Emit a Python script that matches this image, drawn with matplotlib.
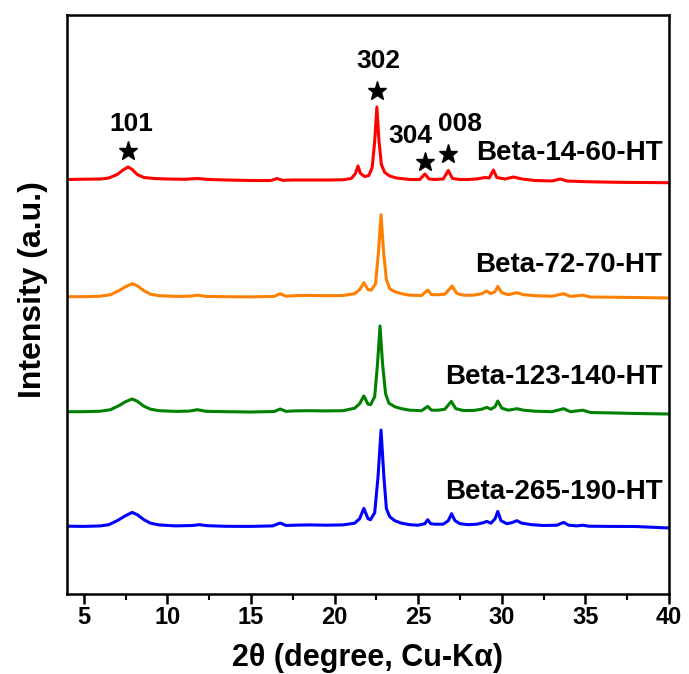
import matplotlib
matplotlib.use("Agg")
import matplotlib.pyplot as plt
from matplotlib.ticker import MultipleLocator

plt.rcParams['font.family'] = ['Liberation Sans', 'DejaVu Sans']
plt.rcParams['font.weight'] = 'bold'

# --- XRD patterns: (2theta, intensity above the trace's own baseline, a.u.) ---
red_pts = [(4.0, 0), (5.0, 0.3), (6.0, 0.5), (6.5, 1.5), (7.0, 5), (7.4, 10), (7.65, 12.5), (7.9, 10),
           (8.2, 5), (8.6, 2), (9.2, 1), (10.0, 0.5), (11.0, 0.2), (11.8, 1.0), (12.5, 0), (13.5, -0.5),
           (15.0, -1), (16.2, -1), (16.55, 1), (16.9, -0.8), (17.5, -0.5), (18.5, -0.5), (19.5, -0.5),
           (20.5, -0.3), (21.0, 1), (21.25, 6), (21.4, 13.5), (21.55, 6), (21.8, 3), (22.05, 4), (22.25, 12),
           (22.4, 38), (22.53, 72.5), (22.66, 38), (22.8, 15), (23.0, 7), (23.3, 3.5), (23.7, 1.5),
           (24.5, 0), (25.1, 0), (25.4, 5.5), (25.65, 0.5), (26.0, 0), (26.5, 0.5), (26.8, 9), (27.05, 1),
           (27.5, 0), (28.0, 0), (28.5, 0.5), (29.0, 2), (29.25, 1.5), (29.5, 9.5), (29.7, 2), (30.2, 0.5),
           (30.7, 2.5), (31.2, 0.5), (32.0, -1), (33.0, -1.5), (33.5, 0.5), (33.9, -1.5), (35.0, -2.2),
           (37.0, -2.8), (40.0, -3.2)]

orange_pts = [(4.0, 0), (5.0, 0), (6.0, 0.5), (6.6, 2), (7.1, 6), (7.5, 10), (7.9, 13), (8.2, 11),
              (8.6, 6), (9.0, 2.5), (9.5, 1), (10.5, 0.3), (11.3, 0.5), (11.8, 1.5), (12.3, 0.3), (13.5, 0),
              (15.0, -0.2), (16.4, 0.3), (16.75, 3), (17.1, 0.5), (17.6, 1), (18.5, 1.3), (19.5, 1),
              (20.5, 1.2), (21.2, 3), (21.5, 7), (21.75, 14), (22.0, 7), (22.2, 6.5), (22.45, 13),
              (22.63, 45), (22.78, 82), (22.93, 45), (23.1, 17), (23.3, 8), (23.6, 5), (24.0, 3), (24.5, 1.5),
              (25.2, 1.2), (25.57, 6.7), (25.8, 2), (26.2, 2), (26.6, 2.5), (27.03, 10.7), (27.3, 3.5),
              (27.7, 1.5), (28.3, 1.5), (28.8, 3), (29.1, 5.7), (29.35, 3), (29.6, 5), (29.76, 10.3),
              (30.0, 4), (30.4, 2), (30.9, 4), (31.3, 2), (32.0, 1), (33.0, 0.5), (33.7, 3), (34.1, 0.3),
              (34.84, 1.5), (35.3, -0.3), (36.5, -0.5), (38.0, -0.8), (40.0, -1.3)]

green_pts = [(4.0, 0), (5.0, 0), (6.0, 0.5), (6.6, 2), (7.1, 6), (7.5, 10), (7.9, 12.7), (8.2, 10.5),
             (8.6, 5.5), (9.0, 2.5), (9.5, 1), (10.5, 0.3), (11.3, 0.6), (11.8, 2), (12.3, 0.4), (13.5, 0),
             (15.0, -0.3), (16.4, 0.2), (16.75, 2.7), (17.1, 0.3), (17.6, 0.8), (18.5, 1), (19.5, 0.8),
             (20.5, 1), (21.2, 3.5), (21.5, 8), (21.75, 15.7), (22.0, 7.5), (22.15, 7), (22.4, 15),
             (22.57, 48), (22.72, 85.7), (22.87, 48), (23.05, 18), (23.25, 8.5), (23.6, 5), (24.0, 3),
             (24.5, 1.5), (25.2, 1), (25.57, 5.3), (25.8, 1.5), (26.2, 1.5), (26.6, 2.5), (26.98, 10.3),
             (27.25, 3), (27.7, 1.2), (28.3, 1.2), (28.8, 2.5), (29.1, 4.3), (29.35, 2.5), (29.6, 5),
             (29.76, 10.7), (30.0, 3.5), (30.4, 1.5), (30.9, 3), (31.3, 1.5), (32.0, 0.5), (33.0, 0),
             (33.7, 3), (34.1, 0), (34.84, 1.5), (35.3, -0.8), (36.5, -1.2), (38.0, -1.8), (40.0, -2.3)]

blue_pts = [(4.0, 0.5), (5.0, 0.3), (6.0, 0.8), (6.5, 2), (7.0, 6), (7.5, 11), (7.9, 14.3), (8.2, 12),
            (8.6, 7), (9.0, 3.5), (9.5, 1.8), (10.5, 0.8), (11.5, 1.2), (11.9, 2), (12.4, 1.0), (13.5, 0.4),
            (15.0, 0.3), (16.3, 0.8), (16.75, 3.7), (17.1, 1.2), (17.6, 1.5), (18.5, 1.8), (19.5, 1.5),
            (20.5, 1.8), (21.2, 3.5), (21.5, 8), (21.75, 18.3), (22.0, 8), (22.15, 7), (22.4, 14),
            (22.6, 50), (22.78, 96.7), (22.95, 50), (23.1, 18), (23.3, 10), (23.6, 6), (24.0, 3.5),
            (24.5, 2), (25.0, 1.5), (25.4, 3), (25.57, 7), (25.75, 3), (26.0, 2.5), (26.5, 2.5), (26.8, 6),
            (27.0, 13), (27.2, 6), (27.5, 3), (28.0, 2), (28.5, 2.5), (28.9, 4), (29.1, 5.3), (29.35, 3.5),
            (29.6, 8), (29.76, 15.3), (29.95, 6), (30.3, 3), (30.6, 4), (30.9, 6), (31.2, 3.5), (31.8, 2),
            (32.5, 1.2), (33.3, 1.5), (33.7, 4.3), (34.0, 1.5), (34.5, 0.8), (34.85, 1.5), (35.2, 0.5),
            (36.5, 0.3), (38.0, 0.2), (40.0, -1.3)]

samples = ["Beta-14-60-HT", "Beta-72-70-HT", "Beta-123-140-HT", "Beta-265-190-HT"]
patterns = [red_pts, orange_pts, green_pts, blue_pts]
colors = ["#ff0000", "#ff8000", "#008000", "#0000ff"]
offsets = [414.5, 297.3, 182.3, 67.3]       # vertical stacking of the traces
label_y = [440.7, 329.0, 216.5, 102.3]

# reflections marked on the top pattern
hkl = ["101", "302", "304", "008"]
hkl_2theta = [7.65, 22.53, 25.4, 26.8]
star_y = [443.3, 503.3, 432.3, 439.7]
hkl_text_xy = [(7.83, 470), (22.6, 532.7), (24.54, 458), (27.53, 470)]

fig = plt.figure(figsize=(6.89, 6.74), dpi=100)
ax = fig.add_axes([67 / 689, 80 / 674, 602 / 689, 579 / 674])

for pts, col, off, name, ly in zip(patterns, colors, offsets, samples, label_y):
    xs = [p[0] for p in pts]
    ys = [p[1] + off for p in pts]
    ax.plot(xs, ys, color=col, lw=2.2, solid_joinstyle='round')
    ax.text(39.6, ly, name, ha='right', va='center', fontsize=20, fontweight='bold')

ax.plot(hkl_2theta, star_y, linestyle='none', marker='*', ms=14, color='k')
for lab, (tx, ty) in zip(hkl, hkl_text_xy):
    ax.text(tx, ty, lab, ha='center', va='center', fontsize=19, fontweight='bold')

ax.set_xlim(4, 40)
ax.set_ylim(0, 579)
ax.set_yticks([])
ax.xaxis.set_major_locator(MultipleLocator(5))
ax.xaxis.set_minor_locator(MultipleLocator(2.5))
ax.tick_params(axis='x', which='major', direction='out', length=7, width=1.8, labelsize=17, pad=2)
ax.tick_params(axis='x', which='minor', direction='out', length=4, width=1.5)
for sp in ax.spines.values():
    sp.set_linewidth(1.8)

ax.set_xlabel("2θ (degree, Cu-Kα)", fontsize=22, fontweight='bold', labelpad=10)
ax.set_ylabel("Intensity (a.u.)", fontsize=23, fontweight='bold')
ax.yaxis.set_label_coords(-0.032, 0.525)

fig.savefig("out.png", dpi=100)
